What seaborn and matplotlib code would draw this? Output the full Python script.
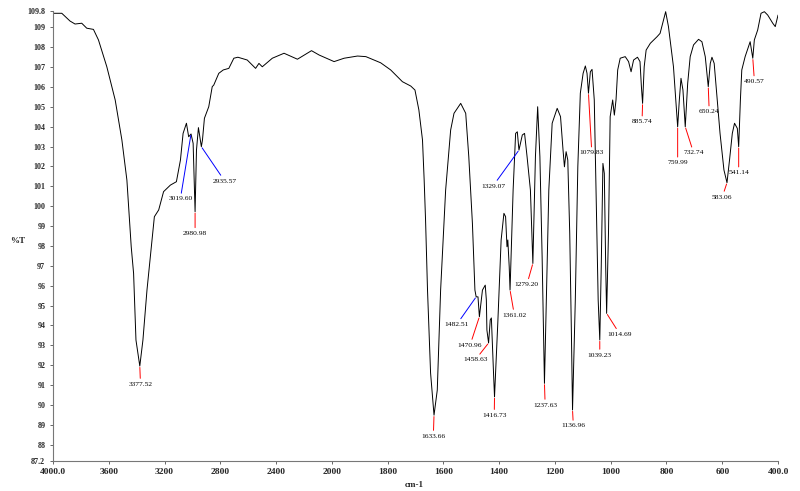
import numpy as np
import matplotlib
matplotlib.use("Agg")
import matplotlib.pyplot as plt
import seaborn as sns

# IR spectrum, wavenumber (cm-1) vs %T
wavenumber = [
    4000, 3937, 3878, 3842, 3794, 3758, 3710, 3674, 3614, 3554,
    3506, 3470, 3439, 3422, 3405, 3377.52, 3355, 3326, 3290, 3273,
    3242, 3207, 3158, 3115, 3086, 3067, 3043, 3027, 3010, 2995,
    2980.98, 2971, 2957, 2936, 2928, 2914, 2883, 2858, 2847, 2811,
    2779, 2739, 2703, 2674, 2607, 2547, 2523, 2499, 2427, 2343,
    2247, 2146, 2091, 1992, 1956, 1908, 1878, 1825, 1789, 1747,
    1717, 1702, 1688, 1675, 1669, 1664, 1657, 1646, 1633.66, 1622,
    1610, 1592, 1574, 1562, 1538, 1520, 1509, 1496, 1487, 1482.51,
    1476, 1470.96, 1460, 1450, 1446, 1444, 1438, 1432, 1428, 1425,
    1420, 1416.73, 1405, 1393, 1383, 1377, 1372, 1369, 1364, 1361.02,
    1350, 1341, 1335, 1329.07, 1317, 1309, 1300, 1288, 1279.2, 1270,
    1262, 1254, 1246, 1237.63, 1222, 1210, 1192, 1180, 1171, 1166,
    1160, 1154, 1147, 1141, 1136.96, 1127, 1118, 1109, 1099, 1091,
    1085, 1079.83, 1073, 1067, 1059, 1052, 1045, 1039.23, 1034, 1028,
    1023, 1018, 1014.69, 1008, 1002, 993, 987, 981, 975, 966,
    948, 936, 927, 918, 904, 895, 890, 885.74, 880, 873,
    858, 834, 823, 803, 793, 775, 759.99, 754, 748, 741,
    732.74, 724, 715, 703, 685, 673, 661, 650.24, 643, 637,
    629, 620, 608, 594, 583.06, 574, 564, 556, 546, 541.14,
    535, 530, 518, 506, 500, 490.57, 485, 473, 461, 449,
    437, 419, 410, 400,
]
transmittance = [
    109.70, 109.70, 109.31, 109.16, 109.20, 108.95, 108.89, 108.36, 107.01, 105.34,
    103.33, 101.31, 97.96, 96.62, 93.27, 91.96, 93.27, 95.78, 98.30, 99.47,
    99.81, 100.73, 101.06, 101.23, 102.32, 103.66, 104.17, 103.49, 103.63, 103.16,
    99.72, 102.82, 103.95, 102.99, 103.33, 104.42, 105.00, 106.01, 106.09, 106.68,
    106.85, 106.93, 107.44, 107.49, 107.35, 106.93, 107.18, 107.01, 107.44, 107.69,
    107.39, 107.82, 107.60, 107.27, 107.44, 107.55, 107.52, 107.21, 106.85, 106.26,
    106.04, 105.84, 104.84, 103.33, 101.31, 99.30, 95.78, 91.61, 89.49, 90.75,
    95.78, 100.81, 103.83, 104.67, 105.17, 104.67, 102.49, 99.14, 95.78, 95.44,
    95.44, 94.44, 95.78, 96.03, 95.28, 93.77, 93.12, 94.28, 94.38, 93.27,
    91.51, 90.41, 94.11, 98.30, 99.64, 99.47, 97.96, 98.30, 96.95, 95.78,
    100.81, 103.66, 103.74, 102.82, 103.58, 103.66, 102.49, 100.81, 97.12, 102.49,
    105.00, 102.49, 97.46, 91.09, 100.81, 104.17, 104.92, 104.50, 102.82, 101.98,
    102.74, 102.32, 98.65, 93.62, 89.75, 95.28, 101.98, 105.68, 106.68, 107.05,
    106.68, 105.68, 106.76, 106.88, 105.34, 100.31, 95.28, 93.27, 96.95, 102.15,
    101.65, 96.95, 94.61, 98.65, 104.50, 105.34, 104.58, 105.34, 106.85, 107.44,
    107.52, 107.27, 106.76, 107.35, 107.49, 107.27, 106.01, 105.17, 107.01, 107.85,
    108.19, 108.52, 108.69, 109.78, 109.03, 107.01, 103.99, 105.34, 106.43, 105.84,
    103.99, 106.18, 107.52, 108.11, 108.39, 108.27, 107.52, 106.01, 107.18, 107.49,
    107.18, 105.68, 103.66, 101.82, 101.18, 102.32, 103.66, 104.17, 103.91, 102.99,
    105.34, 106.85, 107.52, 108.02, 108.27, 107.44, 108.36, 108.86, 109.70, 109.78,
    109.61, 109.20, 109.03, 109.61,
]
assert len(wavenumber) == len(transmittance)

# picked peaks: label text, anchor on the curve, line colour
peak_text = ["3377.52", "3019.60", "2980.98", "2935.57", "1633.66", "1482.51",
             "1470.96", "1458.63", "1416.73", "1361.02", "1329.07", "1279.20",
             "1237.63", "1136.96", "1079.83", "1039.23", "1014.69", "885.74",
             "759.99", "732.74", "650.24", "583.06", "541.14", "490.57"]
peak_wn = [3377.52, 3010, 2980.98, 2936, 1633.66, 1482.51,
           1470.96, 1438, 1416.73, 1361.02, 1329.07, 1279.2,
           1237.63, 1136.96, 1079.83, 1039.23, 1014.69, 885.74,
           759.99, 732.74, 650.24, 583.06, 541.14, 490.57]
peak_t = [91.96, 103.63, 99.72, 102.99, 89.49, 95.44,
          94.44, 93.12, 90.41, 95.78, 102.82, 97.12,
          91.09, 89.75, 105.68, 93.27, 94.61, 105.17,
          103.99, 103.99, 106.01, 101.18, 102.99, 107.44]
peak_color = ["red", "blue", "red", "blue", "red", "blue",
              "red", "red", "red", "red", "blue", "red",
              "red", "red", "red", "red", "red", "red",
              "red", "red", "red", "red", "red", "red"]

x_ticks = [4000, 3600, 3200, 2800, 2400, 2000, 1800, 1600, 1400, 1200, 1000, 800, 600, 400]
x_labels = ["4000.0", "3600", "3200", "2800", "2400", "2000", "1800", "1600",
            "1400", "1200", "1000", "800", "600", "400.0"]
y_ticks = [87.2] + list(range(88, 110)) + [109.8]
y_labels = ["87.2"] + [str(v) for v in range(88, 110)] + ["109.8"]

# label offsets in points (text centre relative to the peak)
offsets = [(0.5, -13), (-7.7, -46.8), (0, -15.6), (16.8, -24.7), (-0.5, -15.1),
           (-14, -19.9), (-6.7, -20.4), (-9.6, -12.2), (-0.2, -13.2), (3.1, -18),
           (-18.7, -25.9), (-4.3, -15.1), (0.5, -15.6), (0.6, -11.5), (2.4, -42.8),
           (0, -10.8), (9.6, -15.1), (-0.4, -13.2), (0, -25.9), (6, -18.7),
           (0.7, -18), (-3.4, -10.3), (0, -18.7), (1.2, -16.8)]

sns.set_theme(style="ticks")
plt.rcParams["font.family"] = ["Liberation Serif", "DejaVu Serif"]

fig = plt.figure(figsize=(8, 4.91), dpi=100)
ax = fig.add_axes([0.06625, 0.0617, 0.9063, 0.9153])


# the x axis is expanded 2x below 2000 cm-1
def fwd(x):
    x = np.asarray(x, dtype=float)
    return np.where(x > 2000, 2000 + (x - 2000) / 2.0, x)


def inv(u):
    u = np.asarray(u, dtype=float)
    return np.where(u > 2000, 2000 + (u - 2000) * 2.0, u)


ax.set_xscale("function", functions=(fwd, inv))

sns.lineplot(x=wavenumber, y=transmittance, sort=False, estimator=None,
             color="black", linewidth=0.7, ax=ax)

for txt, wx, ty, c, off in zip(peak_text, peak_wn, peak_t, peak_color, offsets):
    ax.annotate(txt, xy=(wx, ty), xytext=off, textcoords="offset points",
                ha="center", va="center", fontsize=5.4, color="black",
                arrowprops=dict(arrowstyle="-", color=c, lw=0.7,
                                shrinkA=0, shrinkB=1))

ax.set_xlim(4000, 400)
ax.set_ylim(87.2, 109.8)
ax.set_xticks(x_ticks)
ax.set_xticklabels(x_labels, fontsize=6.8, fontweight="bold")
ax.set_yticks(y_ticks)
ax.set_yticklabels(y_labels, fontsize=5.8, fontweight="bold")
ax.xaxis.set_minor_locator(matplotlib.ticker.NullLocator())
ax.tick_params(axis="both", length=2.5, width=0.7, color="#666666", pad=3)

for side in ["top", "right"]:
    ax.spines[side].set_visible(False)
for side in ["left", "bottom"]:
    ax.spines[side].set_color("#777777")
    ax.spines[side].set_linewidth(0.8)

fig.text(17.5 / 800, 1 - 241 / 491, "%T", ha="center", va="center",
         fontsize=6.5, fontweight="bold")
fig.text(414.7 / 800, 1 - 485 / 491, "cm-1", ha="center", va="center",
         fontsize=6.5, fontweight="bold")

fig.savefig("out.png", dpi=100)
